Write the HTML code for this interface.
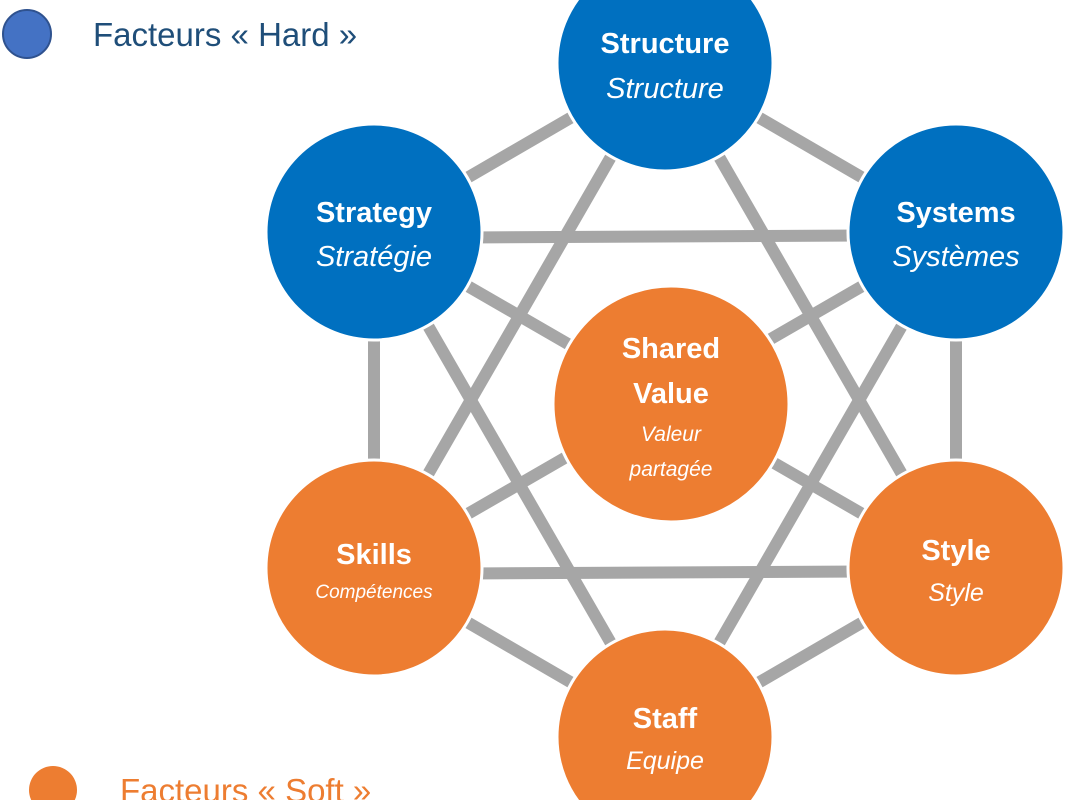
<!DOCTYPE html>
<html><head><meta charset="utf-8"><style>
html,body{margin:0;width:1065px;height:800px;overflow:hidden;background:#fff}
svg{display:block;overflow:hidden}
text{font-family:"Liberation Sans",sans-serif}
</style></head><body>
<svg width="1065" height="800" viewBox="0 0 1065 800">
<g stroke="#a6a6a6" stroke-width="12">
<line x1="665" y1="63" x2="374" y2="232"/>
<line x1="665" y1="63" x2="956" y2="232"/>
<line x1="374" y1="232" x2="374" y2="568"/>
<line x1="956" y1="232" x2="956" y2="568"/>
<line x1="374" y1="568" x2="665" y2="737"/>
<line x1="956" y1="568" x2="665" y2="737"/>
<line x1="374" y1="238" x2="956" y2="235"/>
<line x1="374" y1="574" x2="956" y2="571"/>
<line x1="374" y1="232" x2="956" y2="568"/>
<line x1="956" y1="232" x2="374" y2="568"/>
<line x1="374" y1="232" x2="665" y2="737"/>
<line x1="956" y1="232" x2="665" y2="737"/>
<line x1="665" y1="63" x2="374" y2="568"/>
<line x1="665" y1="63" x2="956" y2="568"/>
</g>
<g stroke="#fff" stroke-width="3">
<circle cx="665" cy="63" r="108" fill="#0070c0"/>
<circle cx="374" cy="232" r="108" fill="#0070c0"/>
<circle cx="956" cy="232" r="108" fill="#0070c0"/>
<circle cx="671" cy="404" r="118" fill="#ed7d31"/>
<circle cx="374" cy="568" r="108" fill="#ed7d31"/>
<circle cx="956" cy="568" r="108" fill="#ed7d31"/>
<circle cx="665" cy="737" r="108" fill="#ed7d31"/>
</g>
<g fill="#fff" text-anchor="middle">
<text x="665" y="53" font-size="29" font-weight="bold">Structure</text>
<text x="665" y="98" font-size="29" font-style="italic">Structure</text>
<text x="374" y="222" font-size="29" font-weight="bold">Strategy</text>
<text x="374" y="266" font-size="29" font-style="italic">Stratégie</text>
<text x="956" y="222" font-size="29" font-weight="bold">Systems</text>
<text x="956" y="266" font-size="29" font-style="italic">Systèmes</text>
<text x="671" y="358" font-size="29" font-weight="bold">Shared</text>
<text x="671" y="403" font-size="29" font-weight="bold">Value</text>
<text x="671" y="441" font-size="21" font-style="italic">Valeur</text>
<text x="671" y="476" font-size="21" font-style="italic">partagée</text>
<text x="374" y="564" font-size="29" font-weight="bold">Skills</text>
<text x="374" y="598" font-size="19" font-style="italic">Compétences</text>
<text x="956" y="560" font-size="29" font-weight="bold">Style</text>
<text x="956" y="601" font-size="25" font-style="italic">Style</text>
<text x="665" y="728" font-size="29" font-weight="bold">Staff</text>
<text x="665" y="769" font-size="25" font-style="italic">Equipe</text>
</g>
<circle cx="27" cy="34" r="24" fill="#4472c4" stroke="#2f528f" stroke-width="2"/>
<text x="93" y="46" font-size="33" fill="#1f4e79">Facteurs « Hard »</text>
<circle cx="53" cy="790" r="24" fill="#ed7d31"/>
<text x="120" y="802" font-size="33" fill="#ed7d31">Facteurs « Soft »</text>
</svg>
</body></html>
